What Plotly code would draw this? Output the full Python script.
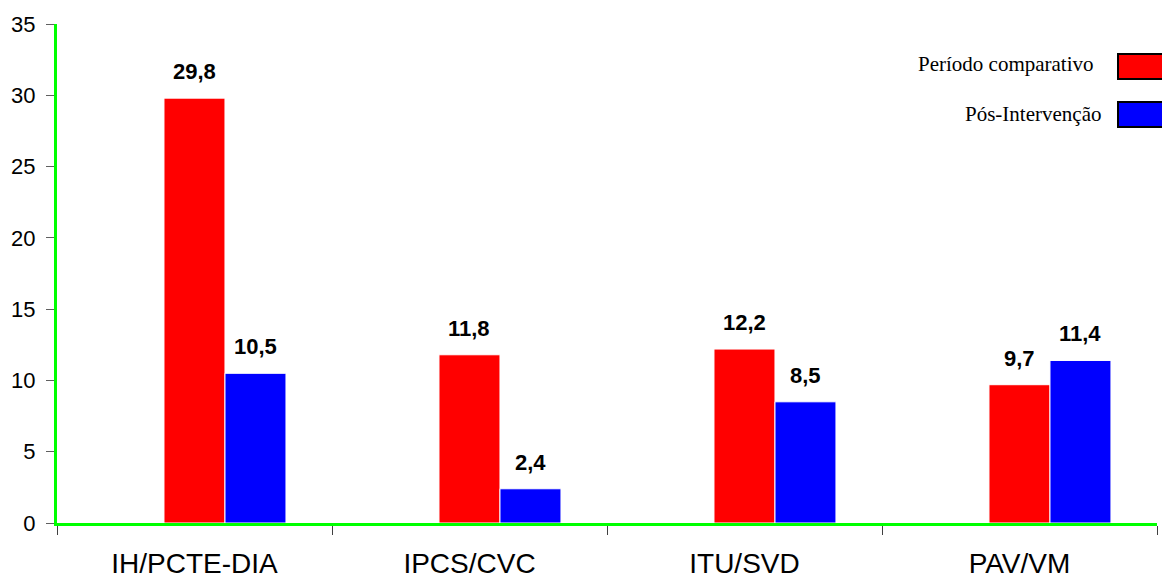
import plotly.graph_objects as go

categories = ["IH/PCTE-DIA", "IPCS/CVC", "ITU/SVD", "PAV/VM"]
series_names = ["Período comparativo", "Pós-Intervenção"]
periodo_comparativo = [29.8, 11.8, 12.2, 9.7]
pos_intervencao = [10.5, 2.4, 8.5, 11.4]
y_ticks = [0, 5, 10, 15, 20, 25, 30, 35]

# page body has an 8px offset; compensate so the plot lands where the reference has it
OFF = 8
W, H = 1170 - OFF, 581 - OFF
ML, MR, MT, MB = 57 - OFF, 13, 24 - OFF, 58
PW, PH = W - ML - MR, H - MT - MB


def px_x(x):
    return (x - OFF - ML) / PW


def px_y(y):
    return (H - MB - (y - OFF)) / PH


fig = go.Figure()
colors = ["#FF0000", "#0000FF"]
bar_w = 0.2218
offsets = [-0.111, -0.111 + bar_w]
for name, vals, c, off in zip(series_names, [periodo_comparativo, pos_intervencao], colors, offsets):
    fig.add_trace(go.Bar(
        x=categories, y=vals, name=name,
        width=bar_w, offset=off,
        marker=dict(color=c, line=dict(color="white", width=1)),
        showlegend=False,
    ))

annotations = []
for i, vals in enumerate([periodo_comparativo, pos_intervencao]):
    cshift = (offsets[i] + bar_w / 2) * (PW / len(categories))
    for j, v in enumerate(vals):
        annotations.append(dict(
            x=categories[j], y=v, xref="x", yref="y",
            text="<b>" + f"{v:.1f}".replace(".", ",") + "</b>",
            showarrow=False, yanchor="bottom", yshift=12,
            xshift=cshift,
            font=dict(family="Arial, Liberation Sans", size=22, color="black"),
        ))

# custom legend (text left of coloured box)
legend_rows = [(64, 1096, 54, 79), (114, 1103, 102, 127)]
shapes = []
for (cy, xr, y0, y1), name, c in zip(legend_rows, series_names, colors):
    annotations.append(dict(
        x=px_x(xr), y=px_y(cy), xref="paper", yref="paper",
        text=name, showarrow=False, xanchor="right", yanchor="middle",
        font=dict(family="Liberation Serif, Times New Roman", size=21, color="black"),
    ))
    shapes.append(dict(
        type="rect", xref="paper", yref="paper",
        x0=px_x(1118), x1=px_x(1167), y0=px_y(y1), y1=px_y(y0),
        fillcolor=c, line=dict(color="black", width=2),
    ))

fig.update_layout(
    width=W, height=H,
    margin=dict(l=ML, r=MR, t=MT, b=MB),
    plot_bgcolor="white", paper_bgcolor="white",
    barmode="group",
    annotations=annotations, shapes=shapes,
    font=dict(family="Arial, Liberation Sans", color="black"),
    xaxis=dict(
        showline=True, linecolor="#00FF00", linewidth=3,
        ticks="outside", tickson="boundaries", ticklen=9, tickcolor="#404040", tickwidth=1,
        tickfont=dict(size=28), showgrid=False, zeroline=False,
        range=[-0.5, 3.5], automargin=False, ticklabelstandoff=13,
    ),
    yaxis=dict(
        range=[0, 35], tickvals=y_ticks,
        showline=True, linecolor="#00FF00", linewidth=3,
        ticks="outside", ticklen=8, tickcolor="#606060", tickwidth=1,
        tickfont=dict(size=22), showgrid=False, zeroline=False,
        ticklabelstandoff=6, automargin=False,
    ),
)

fig.write_html("out.html")
